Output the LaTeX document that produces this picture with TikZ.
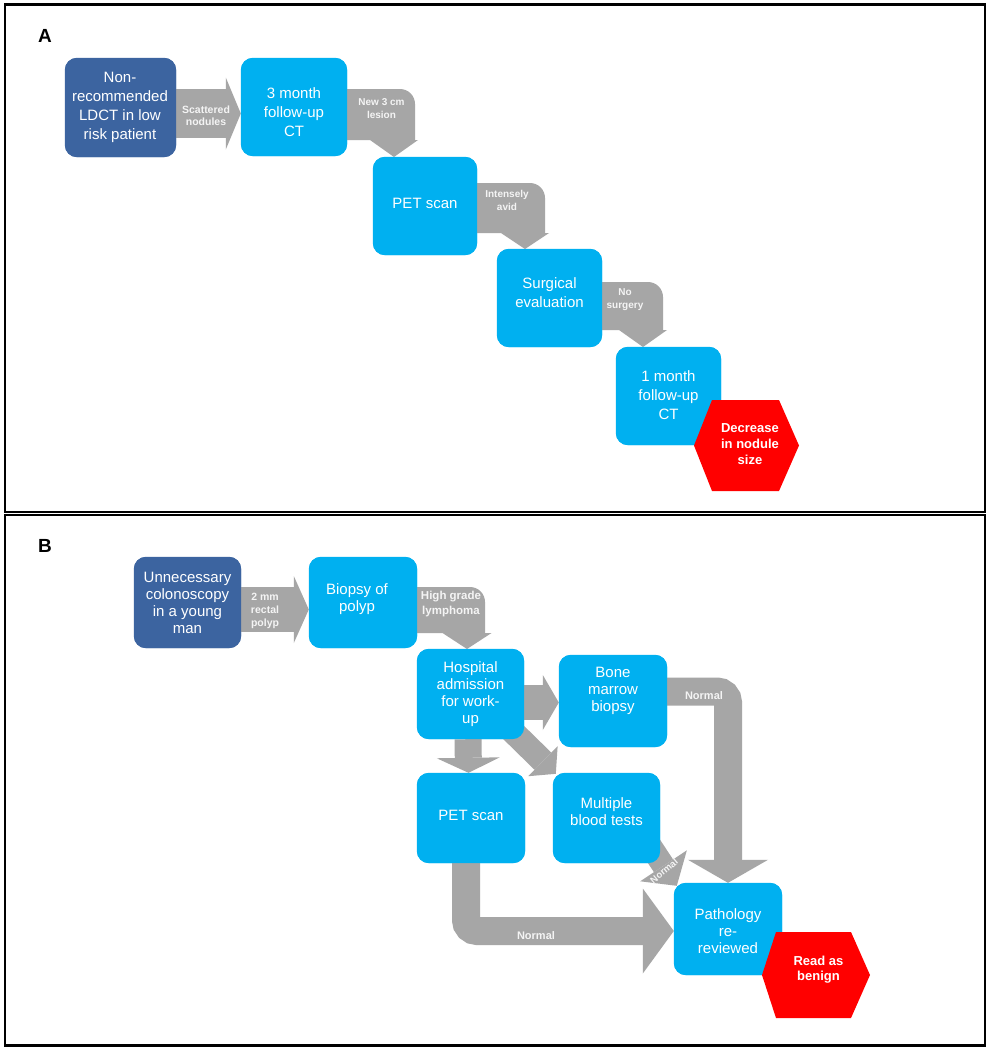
\documentclass[tikz,border=0pt]{standalone}
\usepackage{fontspec}
\setmainfont{Liberation Sans}
\usetikzlibrary{arrows.meta,calc}
\definecolor{darkb}{RGB}{60,100,160}
\definecolor{cyanb}{RGB}{0,176,240}
\definecolor{grayc}{RGB}{166,166,166}
\definecolor{redh}{RGB}{255,0,0}
\definecolor{lbl}{RGB}{244,244,244}
\newcommand\bentdown[7]{% x0, top, right, band height, cx offset, head half width, tip length
  \fill[grayc] (#1,#2) -- ({#3-15},#2) .. controls ({#3-6.7},#2) and (#3,{#2+6.7}) .. (#3,{#2+15})
    -- (#3,{#2+#4}) -- ({#3-#5+#6},{#2+#4}) -- ({#3-#5},{#2+#4+#7}) -- ({#3-#5-#6},{#2+#4}) -- (#1,{#2+#4}) -- cycle;}
\begin{document}
\begin{tikzpicture}[x=1pt,y=-1pt,
  cbox/.style={rounded corners=12pt, fill=cyanb, inner sep=0pt},
  dbox/.style={rounded corners=12pt, fill=darkb, inner sep=0pt},
  txa/.style={text=white, align=center, font=\fontsize{15}{19}\selectfont, inner sep=0pt},
  txb/.style={text=white, align=center, font=\fontsize{15}{17}\selectfont, inner sep=0pt},
  hxt/.style={text=white, align=center, font=\bfseries\fontsize{13}{16}\selectfont, inner sep=0pt},
  alab/.style={text=lbl, align=center, font=\bfseries\fontsize{10}{13}\selectfont, inner sep=0pt},
  blk/.style={draw=grayc, line width=#1, line cap=butt},
  panel/.style={draw=black, line width=2.6pt},
  plet/.style={font=\bfseries\fontsize{19}{19}\selectfont, inner sep=0pt}
]
\useasboundingbox (0,0) rectangle (990,1050);
\fill[white] (0,0) rectangle (990,1050);
% panels
\draw[panel] (5,4.5) rectangle (985,512);
\draw[panel] (5,515) rectangle (985,1045.5);
\node[plet] (la) at (45,35.5) {A};
\node[plet] (lb) at (45,545.5) {B};

% ---------- Panel A ----------
\node[dbox, minimum width=111pt, minimum height=99pt] (a1) at (120.5,107.5) {};
\node[cbox, minimum width=106pt, minimum height=98pt] (a2) at (294,107) {};
\node[cbox, minimum width=104pt, minimum height=98pt] (a3) at (425,206) {};
\node[cbox, minimum width=105pt, minimum height=98pt] (a4) at (549.5,298) {};
\node[cbox, minimum width=105pt, minimum height=98pt] (a5) at (668.5,396) {};

\draw[blk=49pt, -{Triangle[width=72pt,length=15pt,line width=0pt]}]
  ([shift={(0,6)}]a1.east) -- ([shift={(0,6.5)}]a2.west);
\bentdown{340}{89}{415}{51}{21}{24}{17}
\bentdown{470}{183}{545}{50}{20}{24}{16}
\bentdown{595}{282}{663}{48}{20}{24}{17}

% boxes drawn again on top of the arrows
\fill[darkb, rounded corners=12pt] (a1.north west) rectangle (a1.south east);
\fill[cyanb, rounded corners=12pt] (a2.north west) rectangle (a2.south east);
\fill[cyanb, rounded corners=12pt] (a3.north west) rectangle (a3.south east);
\fill[cyanb, rounded corners=12pt] (a4.north west) rectangle (a4.south east);
\fill[cyanb, rounded corners=12pt] (a5.north west) rectangle (a5.south east);

\node[txa] at (120,107) {Non-\\recommended\\LDCT in low\\risk patient};
\node[txa] at (294,112) {3 month\\follow-up\\CT};
\node[txa] at (425,203) {PET scan};
\node[txa] at (549.5,293) {Surgical\\evaluation};
\node[txa] at (668.5,395) {1 month\\follow-up\\CT};

\node[alab, font=\bfseries\fontsize{10.5}{12.5}\selectfont] at (206,115.5) {Scattered\\nodules};
\node[alab] at (381.5,108.5) {New 3 cm\\lesion};
\node[alab] at (507,200.5) {Intensely\\avid};
\node[alab] at (625,299.5) {No\\surgery};

\fill[redh] (694,445.5) -- (712,400) -- (779,400) -- (799,445.5) -- (779,491) -- (712,491) -- cycle;
\node[hxt] (ha) at (750,444) {Decrease\\in nodule\\size};

% ---------- Panel B ----------
\node[dbox, minimum width=107pt, minimum height=91pt] (b1) at (187.5,602.5) {};
\node[cbox, minimum width=108pt, minimum height=91pt] (b2) at (363,602.5) {};
\node[cbox, minimum width=107pt, minimum height=90pt] (b3) at (470.5,694) {};
\node[cbox, minimum width=108pt, minimum height=92pt] (b4) at (613,701) {};
\node[cbox, minimum width=108pt, minimum height=90pt] (b5) at (471,818) {};
\node[cbox, minimum width=107pt, minimum height=90pt] (b6) at (606.5,818) {};
\node[cbox, minimum width=108pt, minimum height=92pt] (b7) at (728,929) {};

\draw[blk=45pt, -{Triangle[width=67pt,length=15pt,line width=0pt]}]
  ([shift={(0,7)}]b1.east) -- ([shift={(0,7)}]b2.west);
\bentdown{410}{587}{485}{46}{18}{24.5}{16}
\draw[blk=35pt, -{Triangle[width=55pt,length=16pt,line width=0pt]}]
  ([shift={(0,8.5)}]b3.east) -- ([shift={(0,1.5)}]b4.west);
\draw[blk=27pt, -{Triangle[width=63pt,length=15pt,line width=0pt]}]
  ([shift={(-2.5,0)}]b3.south) -- ([shift={(-2.5,0)}]b5.north);
\draw[blk=24pt, -{Triangle[width=42pt,length=18pt,line width=0pt]}]
  ([shift={(-18,-14)}]b3.south east) -- ([shift={(3,1)}]b6.north west);
\draw[blk=23pt, -{Triangle[width=56pt,length=24pt,line width=0pt]}]
  ([shift={(-17,-28)}]b6.south east) -- ([shift={(3,3)}]b7.north west);
\draw[blk=28pt, rounded corners=11pt, -{Triangle[width=80pt,length=23pt,line width=0pt]}]
  ([shift={(-5,-9.5)}]b4.east) -| (b7.north);
\draw[blk=28pt, rounded corners=11pt, -{Triangle[width=85pt,length=31pt,line width=0pt]}]
  ([shift={(-5,-2)}]b5.south) |- ([shift={(0,2)}]b7.west);

\fill[darkb, rounded corners=12pt] (b1.north west) rectangle (b1.south east);
\foreach \b in {b2,b3,b4,b5,b6,b7}
  \fill[cyanb, rounded corners=12pt] (\b.north west) rectangle (\b.south east);

\node[txb] at (187.5,602.5) {Unnecessary\\colonoscopy\\in a young\\man};
\node[txb] at (357,599) {Biopsy of\\polyp};
\node[txb] at (470.5,694) {Hospital\\admission\\for work-\\up};
\node[txb] at (613,691) {Bone\\marrow\\biopsy};
\node[txb] at (471,815) {PET scan};
\node[txb] at (606.5,811.5) {Multiple\\blood tests};
\node[txb] at (728,931.5) {Pathology\\re-\\reviewed};

\node[alab, font=\bfseries\fontsize{10.5}{13}\selectfont] at (265,610.5) {2 mm\\rectal\\polyp};
\node[alab, font=\bfseries\fontsize{11.5}{15}\selectfont] at (451,604.5) {High grade\\lymphoma};
\node[alab, font=\bfseries\fontsize{11}{13}\selectfont] at (704,696) {Normal};
\node[alab, font=\bfseries\fontsize{11}{13}\selectfont] at (536,936) {Normal};
\node[alab, font=\bfseries\fontsize{9.5}{12}\selectfont, rotate=40] at (664,871) {Normal};

\fill[redh] (762,975) -- (776,932) -- (851,932) -- (870,975) -- (851,1018) -- (776,1018) -- cycle;
\node[hxt, font=\bfseries\fontsize{13}{15}\selectfont] (hb) at (818.5,969.5) {Read as\\benign};
\end{tikzpicture}
\end{document}
